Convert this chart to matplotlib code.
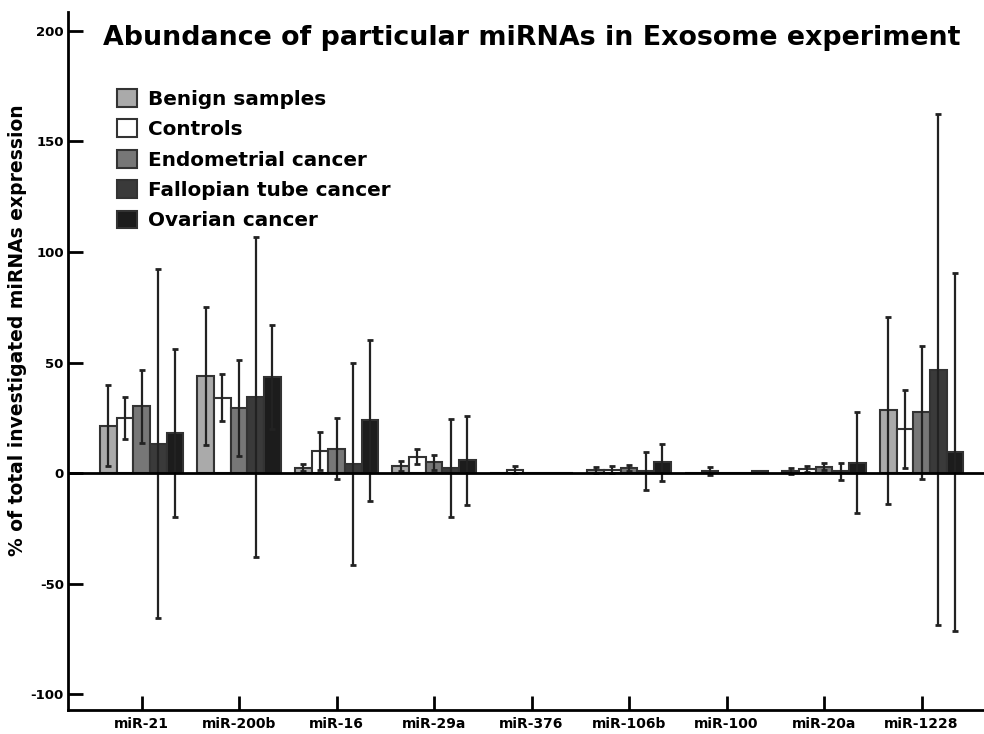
import numpy as np
import matplotlib
matplotlib.use("Agg")
import matplotlib.pyplot as plt

# miRNA categories and group values
mirnas = ['miR-21', 'miR-200b', 'miR-16', 'miR-29a', 'miR-376',
          'miR-106b', 'miR-100', 'miR-20a', 'miR-1228']
groups = ['Benign samples', 'Controls', 'Endometrial cancer',
          'Fallopian tube cancer', 'Ovarian cancer']

benign = [21.4, 43.9, 2.5, 3.3, 0.0, 1.5, 0.0, 1.0, 28.3]
benign_err = [18.4, 31.0, 1.8, 2.3, 0.0, 1.3, 0.0, 1.4, 42.3]
controls = [25.0, 34.1, 10.0, 7.4, 1.6, 1.6, 1.1, 1.8, 20.0]
controls_err = [9.5, 10.7, 8.5, 3.5, 1.5, 1.6, 1.8, 1.3, 17.6]
endometrial = [30.3, 29.6, 11.0, 4.8, 0.0, 2.2, 0.0, 2.8, 27.4]
endometrial_err = [16.5, 21.7, 13.9, 3.2, 0.0, 1.3, 0.0, 1.6, 30.3]
fallopian = [13.2, 34.5, 3.9, 2.1, 0.0, 1.0, 0.0, 0.7, 46.7]
fallopian_err = [79.0, 72.3, 45.7, 22.2, 0.0, 8.5, 0.0, 4.0, 115.6]
ovarian = [18.0, 43.6, 23.8, 5.7, 0.0, 4.8, 0.7, 4.7, 9.5]
ovarian_err = [38.0, 23.5, 36.3, 20.2, 0.0, 8.3, 0.0, 23.0, 81.0]

values = [benign, controls, endometrial, fallopian, ovarian]
errors = [benign_err, controls_err, endometrial_err, fallopian_err, ovarian_err]
colors = ['#aaaaaa', '#ffffff', '#777777', '#3a3a3a', '#1c1c1c']

plt.rcParams['font.family'] = 'DejaVu Sans'
plt.rcParams['font.weight'] = 'bold'
plt.rcParams['axes.unicode_minus'] = False

fig = plt.figure(figsize=(9.84, 7.34), dpi=100)
ax = fig.add_axes([0.0691, 0.0327, 0.9309, 0.951])

x = np.arange(len(mirnas))
w = 0.171
for i, (vals, errs, col, name) in enumerate(zip(values, errors, colors, groups)):
    pos = x + (i - 2) * w
    ax.bar(pos, vals, width=w, color=col, edgecolor='#333333',
           linewidth=1.5, label=name, zorder=2)
    errs = np.array(errs)
    keep = errs > 0
    ax.errorbar(pos[keep], np.array(vals)[keep], yerr=errs[keep], fmt='none',
                ecolor='#222222', elinewidth=1.6, capsize=2.5, capthick=2,
                zorder=3)

ax.axhline(0, color='black', linewidth=2, zorder=4)

ax.set_xlim(-0.754, 8.64)
ax.set_ylim(-107.2, 208.6)
ax.set_yticks([-100, -50, 0, 50, 100, 150, 200])
ax.set_xticks(x)
ax.set_xticklabels(mirnas, fontsize=10, fontweight='bold')
ax.tick_params(axis='y', direction='in', length=11, width=2, labelsize=9.5,
               pad=3)
ax.tick_params(axis='x', direction='in', length=10, width=2, pad=5)
for lbl in ax.get_yticklabels():
    lbl.set_fontweight('bold')

for side in ['top', 'right']:
    ax.spines[side].set_visible(False)
ax.spines['left'].set_linewidth(2)
ax.spines['bottom'].set_linewidth(2)

ax.set_ylabel('% of total investigated miRNAs expression', fontsize=13.5,
              fontweight='bold', va='center')
ax.yaxis.set_label_coords(-50 / 916, (710 - 330) / 698)

fig.text(532 / 984, 1 - 38 / 734,
         'Abundance of particular miRNAs in Exosome experiment',
         ha='center', va='center', fontsize=19.4, fontweight='bold')

ax.legend(loc='upper left', bbox_to_anchor=(109 / 984, 1 - 81 / 734),
          bbox_transform=fig.transFigure, frameon=False,
          prop={'size': 14.4, 'weight': 'bold'}, handlelength=1.0,
          handleheight=1.0, handletextpad=0.55, labelspacing=0.53,
          borderaxespad=0)

fig.savefig('out.png', dpi=100)
